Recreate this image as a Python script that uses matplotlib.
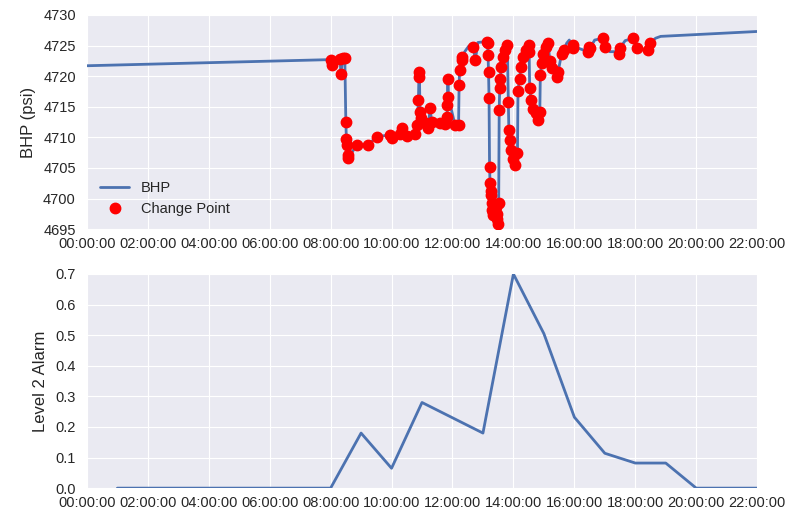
import matplotlib
matplotlib.use("Agg")
import matplotlib.dates as mdates
import matplotlib.pyplot as plt
import pandas as pd
from matplotlib.ticker import FormatStrFormatter, MultipleLocator

DAY = "2017-01-01 "

# BHP line nodes that are not change points
bhp_times = [
    "00:00", "07:59", "12:25", "12:32", "12:50", "13:00", "15:45", "15:50",
    "16:10", "16:40", "17:10", "17:20", "17:40", "18:10", "18:40", "18:50",
    "20:00", "22:00",
]
bhp_values = [
    4721.7, 4722.7, 4724.1, 4724.9, 4725.5, 4725.6, 4725.4, 4725.9,
    4724.5, 4725.9, 4724.0, 4724.0, 4725.8, 4724.3, 4726.2, 4726.5,
    4726.8, 4727.3,
]

# detected change points (they also sit on the BHP line)
cp_times = [
    "08:00", "08:02", "08:19", "08:20", "08:24", "08:28", "08:30", "08:31",
    "08:32", "08:34", "08:35", "08:51", "09:14", "09:31", "09:57", "10:00",
    "10:17", "10:20", "10:30", "10:46", "10:50", "10:53", "10:54", "10:55",
    "10:56", "10:58", "11:06", "11:12", "11:16", "11:19", "11:36", "11:45",
    "11:49", "11:50", "11:51", "11:52", "12:05", "12:12", "12:13", "12:14",
    "12:18", "12:19", "12:41", "12:45", "13:07", "13:09", "13:10", "13:11",
    "13:12", "13:13", "13:14", "13:15", "13:16", "13:17", "13:18", "13:19",
    "13:20", "13:22", "13:25", "13:27", "13:28", "13:30", "13:31", "13:32",
    "13:33", "13:34", "13:36", "13:39", "13:43", "13:48", "13:50", "13:51",
    "13:53", "13:56", "13:59", "14:03", "14:08", "14:09", "14:12", "14:15",
    "14:19", "14:25", "14:30", "14:31", "14:32", "14:35", "14:38", "14:44",
    "14:48", "14:52", "14:53", "14:56", "14:59", "15:05", "15:08", "15:12",
    "15:16", "15:25", "15:28", "15:35", "15:39", "15:57", "15:58", "16:27",
    "16:28", "16:31", "16:57", "17:01", "17:27", "17:30", "17:56", "18:03",
    "18:26", "18:29",
]
cp_values = [
    4722.6, 4721.9, 4722.8, 4720.3, 4723.0, 4722.9, 4712.5, 4709.8,
    4708.7, 4707.1, 4706.6, 4708.7, 4708.8, 4710.1, 4710.4, 4709.9,
    4710.5, 4711.5, 4710.2, 4710.6, 4712.0, 4716.1, 4720.7, 4719.9,
    4714.2, 4713.1, 4712.3, 4711.5, 4714.8, 4712.5, 4712.4, 4712.1,
    4713.4, 4715.3, 4719.6, 4716.6, 4712.0, 4712.0, 4718.5, 4721.0,
    4722.6, 4723.2, 4724.8, 4722.6, 4725.6, 4725.4, 4723.5, 4720.7,
    4716.4, 4705.2, 4702.5, 4700.6, 4701.3, 4699.2, 4698.1, 4697.8,
    4697.3, 4698.5, 4698.6, 4696.7, 4697.5, 4695.9, 4699.2, 4714.5,
    4718.0, 4719.6, 4721.5, 4723.2, 4724.3, 4725.1, 4715.8, 4711.2,
    4709.6, 4707.9, 4706.5, 4705.5, 4707.4, 4717.5, 4719.6, 4721.5,
    4723.2, 4724.3, 4725.1, 4724.0, 4718.0, 4716.1, 4714.7, 4713.9,
    4712.8, 4714.2, 4720.2, 4722.1, 4723.7, 4724.8, 4725.4, 4722.4,
    4721.3, 4719.9, 4720.7, 4723.7, 4724.3, 4724.6, 4725.1, 4724.0,
    4724.8, 4724.6, 4726.2, 4724.8, 4723.7, 4724.6, 4726.2, 4724.6,
    4724.3, 4725.4,
]

# hourly level 2 alarm
alarm_times = [f"{h:02d}:00" for h in range(1, 23)]
alarm_values = [
    0.0, 0.0, 0.0, 0.0, 0.0, 0.0, 0.0, 0.0, 0.18, 0.065, 0.28,
    0.23, 0.18, 0.70, 0.505, 0.232, 0.114, 0.082, 0.082, 0.0, 0.0, 0.0,
]


def to_dt(times):
    return pd.to_datetime([DAY + t for t in times])


def main():
    plt.style.use("seaborn-v0_8-darkgrid")
    plt.rcParams["font.family"] = ["Liberation Sans", "DejaVu Sans"]
    plt.rcParams["text.color"] = ".15"
    plt.rcParams["axes.labelcolor"] = ".15"
    plt.rcParams["xtick.color"] = ".15"
    plt.rcParams["ytick.color"] = ".15"

    cp = pd.Series(cp_values, index=to_dt(cp_times))
    base = pd.Series(bhp_values, index=to_dt(bhp_times))
    bhp = pd.concat([base, cp]).sort_index()
    alarm = pd.Series(alarm_values, index=to_dt(alarm_times))

    fig = plt.figure(figsize=(7.97, 5.16), dpi=100)
    ax1 = fig.add_axes([0.109, 0.556, 0.841, 0.415])
    ax2 = fig.add_axes([0.109, 0.054, 0.841, 0.415])

    ax1.plot(bhp.index, bhp.values, color="#4C72B0", lw=2, label="BHP", zorder=2)
    ax1.plot(cp.index, cp.values, "o", color="red", ms=7.5, label="Change Point", zorder=3)
    ax1.set_ylim(4695, 4730)
    ax1.yaxis.set_major_locator(MultipleLocator(5))
    ax1.set_ylabel("BHP (psi)", fontsize=12, labelpad=5)
    ax1.legend(loc="lower left", fontsize=10.5, frameon=False, numpoints=1)

    ax2.plot(alarm.index, alarm.values, color="#4C72B0", lw=2)
    ax2.set_ylim(0, 0.7)
    ax2.yaxis.set_major_locator(MultipleLocator(0.1))
    ax2.yaxis.set_major_formatter(FormatStrFormatter("%.1f"))
    ax2.set_ylabel("Level 2 Alarm", fontsize=12, labelpad=5)

    start = pd.Timestamp(DAY + "00:00")
    end = pd.Timestamp(DAY + "22:00")
    for ax in (ax1, ax2):
        ax.set_xlim(start, end)
        ax.xaxis.set_major_locator(mdates.HourLocator(byhour=range(0, 24, 2)))
        ax.xaxis.set_major_formatter(mdates.DateFormatter("%H:%M:%S"))
        ax.tick_params(labelsize=10.5, length=0)
        ax.tick_params(axis="x", pad=6)
        ax.tick_params(axis="y", pad=8)

    fig.savefig("out.png", dpi=100)
    plt.close(fig)


if __name__ == "__main__":
    main()
